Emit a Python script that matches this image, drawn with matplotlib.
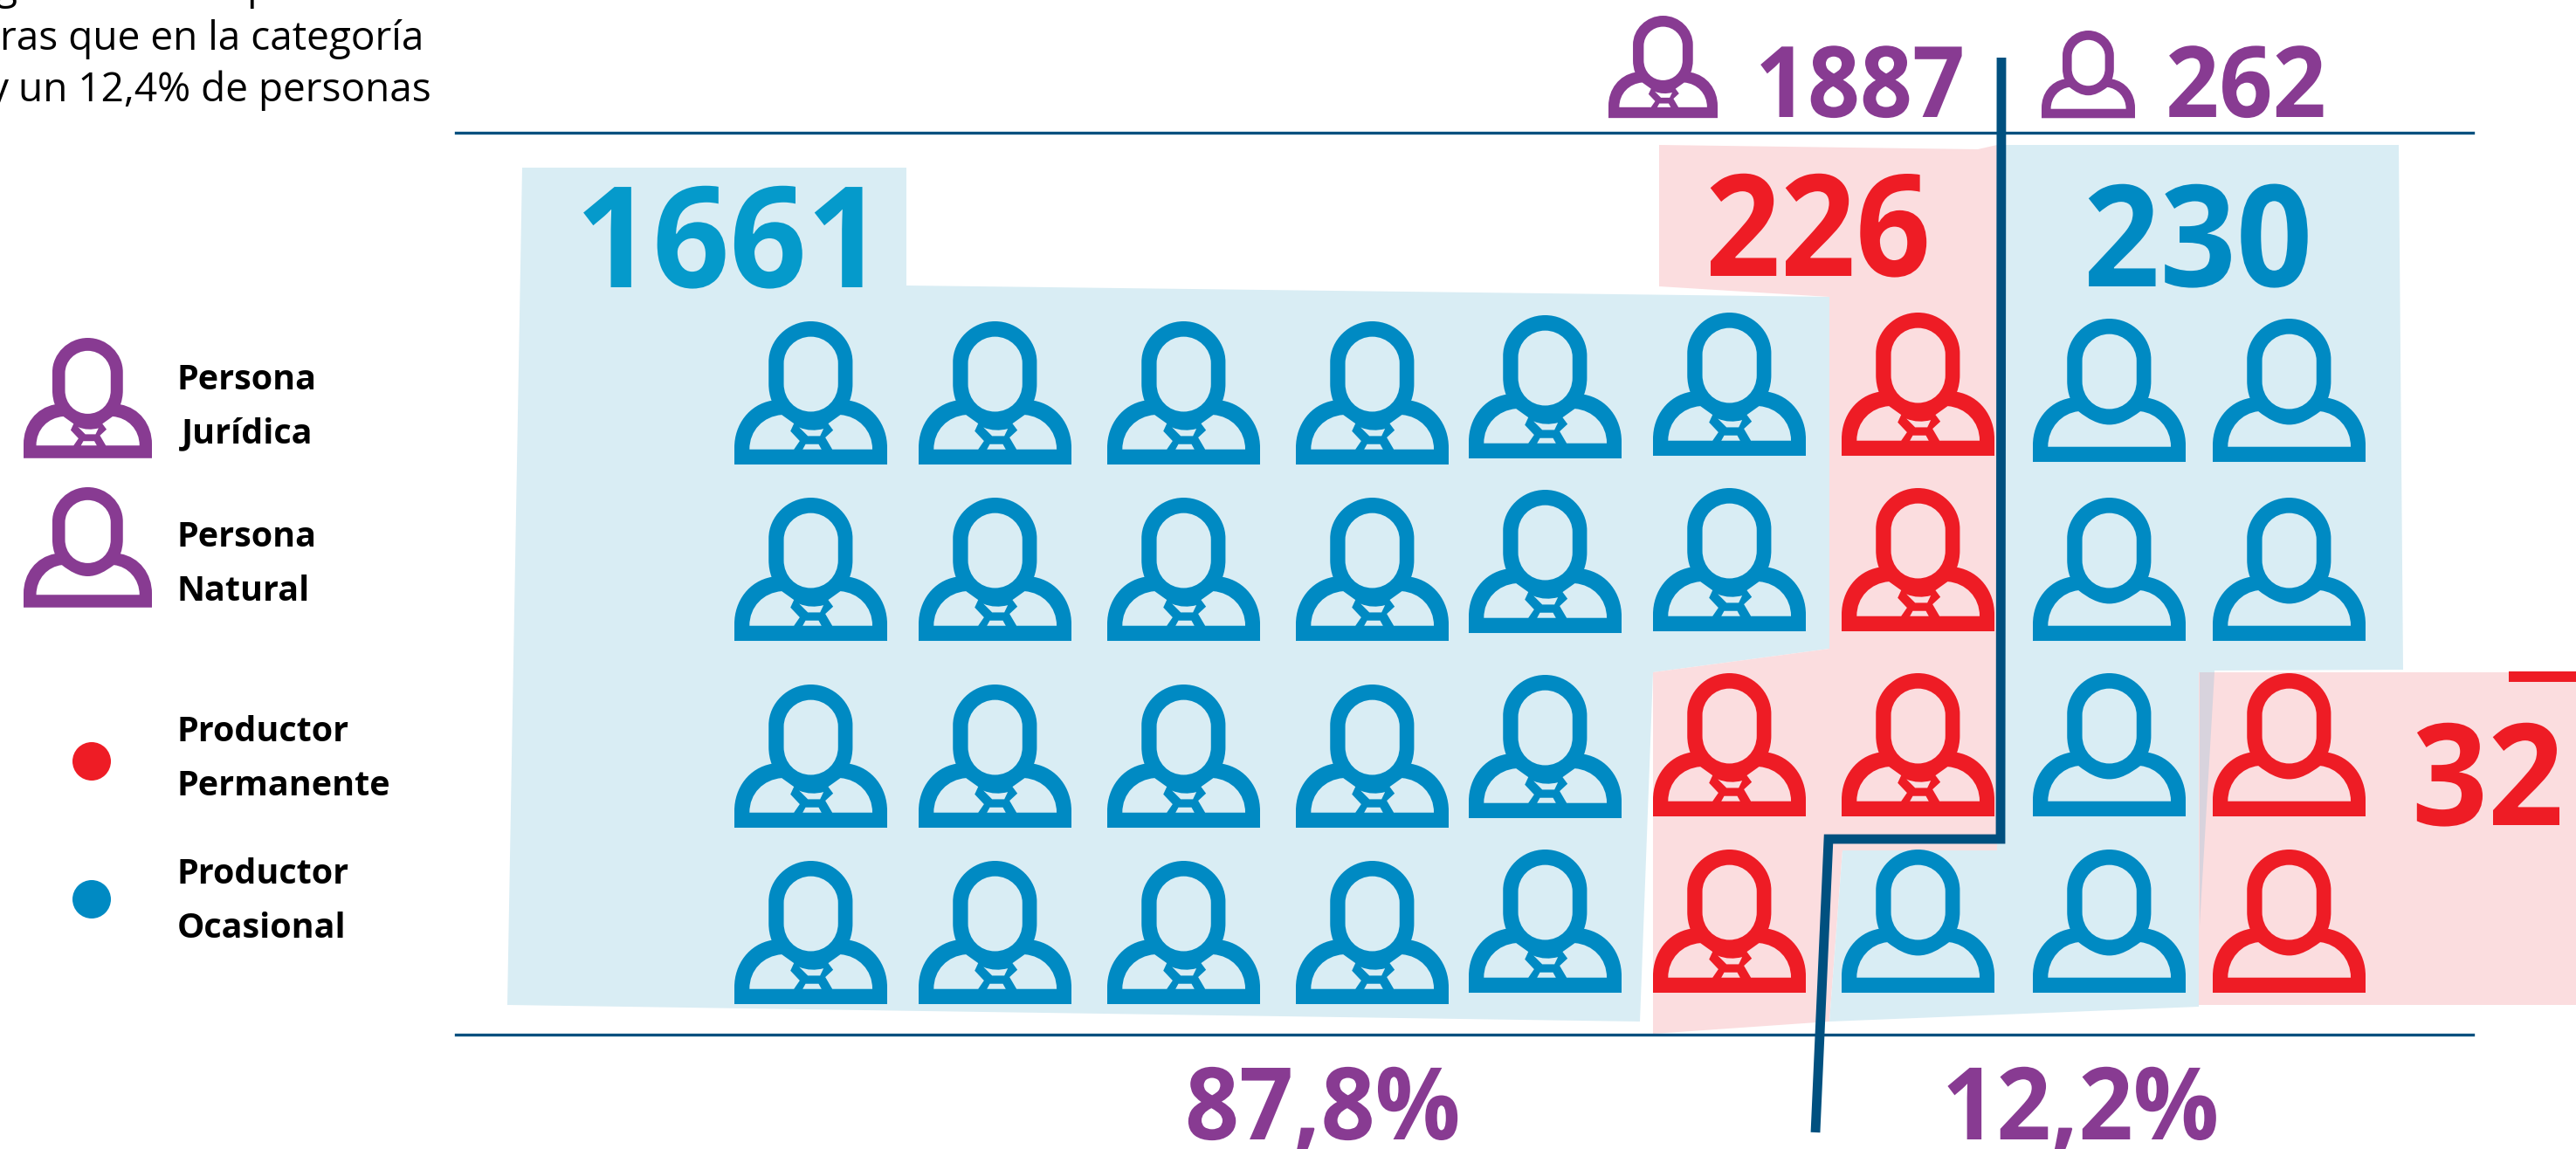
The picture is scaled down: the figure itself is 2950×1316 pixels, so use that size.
"""
Productores por tipo de persona (infografia con iconos)
"""

import matplotlib
matplotlib.use("Agg")
import matplotlib.pyplot as plt
import matplotlib.patheffects as pe
from matplotlib.patches import PathPatch, Polygon, Ellipse, Rectangle
from matplotlib.path import Path
from matplotlib.transforms import Affine2D

plt.rcParams["font.family"] = ["Open Sans", "DejaVu Sans"]

# datos
tipo_persona = [
    "JJJJJJJNN",
    "JJJJJJJNN",
    "JJJJJJJNN",
    "JJJJJJNNN",
]
tipo_productor = [
    "OOOOOOPOO",
    "OOOOOOPOO",
    "OOOOOPPOP",
    "OOOOOPOOP",
]
total_juridica = "1887"
total_natural = "262"
juridica_ocasional = "1661"
juridica_permanente = "226"
natural_ocasional = "230"
natural_permanente = "32"
pct_juridica = "87,8%"
pct_natural = "12,2%"
leyenda = ["Persona", "Jurídica", "Persona", "Natural",
           "Productor", "Permanente", "Productor", "Ocasional"]

# colores
AZUL = "#008AC3"
AZUL_NUM = "#059ACB"
ROJO = "#EE1C25"
MORADO = "#883B92"
LINEA = "#00507F"
FONDO_AZUL = "#D9EDF4"
FONDO_ROJO = "#FBDDDF"
CRUCE = "#D8D3DD"

# posiciones de la rejilla (pixeles)
col_x = [841, 1052, 1268, 1484, 1682, 1893, 2109, 2328, 2534]
col_y = [
    [368, 570, 784, 986], [368, 570, 784, 986], [368, 570, 784, 986],
    [368, 570, 784, 986], [361, 561, 773, 973], [358, 559, 771, 973],
    [358, 559, 771, 973], [365, 570, 771, 973], [365, 570, 771, 973],
]


def anillo(inicio, tramos):
    """Devuelve vertices y codigos de un contorno cerrado."""
    v = [inicio]
    c = [Path.MOVETO]
    for t in tramos:
        if len(t) == 2:
            v.append(t)
            c.append(Path.LINETO)
        else:
            v += [t[0:2], t[2:4], t[4:6]]
            c += [Path.CURVE4] * 3
    v.append(inicio)
    c.append(Path.CLOSEPOLY)
    return v, c


def icono(con_corbata):
    """Silueta de persona en el cuadro 0..1."""
    anillos = [
        anillo((328, 85), [(408, 85, 472, 150, 472, 225), (472, 300),
                           (472, 322, 468, 342, 462, 358),
                           (540, 372, 591, 440, 591, 520), (591, 578), (65, 578), (65, 520),
                           (65, 440, 116, 372, 193, 358),
                           (187, 342, 183, 322, 183, 300), (183, 225),
                           (183, 150, 248, 85, 328, 85)]),
        anillo((328, 138), [(276, 138, 235, 180, 235, 230), (235, 300),
                            (235, 355, 276, 396, 328, 396),
                            (380, 396, 422, 355, 422, 300), (422, 230),
                            (422, 180, 380, 138, 328, 138)]),
    ]
    if con_corbata:
        anillos += [
            anillo((117, 526), [(270, 526), (290, 497), (258, 463), (270, 437), (228, 407),
                                (165, 412, 117, 460, 117, 526)]),
            anillo((540, 526), [(540, 460, 492, 412, 430, 407), (388, 437), (405, 460),
                                (378, 485), (402, 526)]),
            anillo((288, 450), [(318, 480), (360, 480), (372, 455),
                                (345, 462, 315, 462, 288, 450)]),
            anillo((300, 526), [(365, 526), (355, 508), (310, 508)]),
        ]
    else:
        anillos.append(
            anillo((117, 526), [(540, 526), (540, 460, 492, 410, 435, 404),
                                (400, 430, 366, 450, 328, 450),
                                (290, 450, 255, 430, 222, 404),
                                (165, 410, 117, 460, 117, 526)]))
    verts, codes = [], []
    for v, c in anillos:
        verts += [((x - 65) / 526, (y - 85) / 493) for x, y in v]
        codes += c
    return Path(verts, codes)


ICONOS = {"J": icono(True), "N": icono(False)}


class Estrecho(pe.AbstractPathEffect):
    """Estrecha el texto en horizontal, la fuente original es mas condensada."""

    def __init__(self, sx):
        super().__init__()
        self.sx = sx

    def draw_path(self, renderer, gc, tpath, affine, rgbFace=None):
        renderer.draw_path(gc, tpath, Affine2D().scale(self.sx, 1) + affine, rgbFace)


def poner_icono(ax, tipo, x, y, ancho, color):
    alto = ancho * 493 / 526
    t = Affine2D().scale(ancho, alto).translate(x, y) + ax.transData
    ax.add_patch(PathPatch(ICONOS[tipo], facecolor=color, edgecolor="none", transform=t, zorder=3))


def poner_texto(ax, x, y, s, px, color, bold=True, sx=1.0):
    """x es el borde izquierdo, y la linea base, px el tamano en pixeles."""
    efectos = [Estrecho(sx)] if sx != 1.0 else None
    ax.text(x, y, s, fontsize=px * 0.72, color=color, ha="left", va="baseline",
            fontweight="bold" if bold else "normal", path_effects=efectos, zorder=4)


fig = plt.figure(figsize=(29.5, 13.16), dpi=100)
ax = fig.add_axes([0, 0, 1, 1])
ax.set_xlim(0, 2950)
ax.set_ylim(1316, 0)
ax.axis("off")

# fondos
fondos = [
    ([(598, 192), (1038, 192), (1038, 327), (2095, 340), (2095, 743), (1893, 770),
      (1878, 1170), (581, 1151)], FONDO_AZUL),
    ([(1900, 166), (2265, 171), (2287, 166), (2287, 974), (2110, 974), (2095, 1170),
      (1893, 1184), (1893, 770), (2095, 743), (2095, 340), (1900, 328)], FONDO_ROJO),
    ([(2287, 166), (2747, 166), (2752, 767), (2536, 768), (2518, 1153), (2095, 1170),
      (2110, 974), (2287, 974)], FONDO_AZUL),
    ([(2518, 770), (2950, 770), (2950, 1151), (2518, 1151)], FONDO_ROJO),
    ([(2519, 770), (2536, 770), (2519, 1060)], CRUCE),
]
for puntos, color in fondos:
    ax.add_patch(Polygon(puntos, closed=True, facecolor=color, edgecolor="none", zorder=1))
ax.add_patch(Rectangle((2873, 769), 77, 12, facecolor=ROJO, edgecolor="none", zorder=2))

# lineas
ax.plot([522, 2832], [152, 152], color=LINEA, lw=2.4, zorder=2)
ax.plot([522, 2832], [1185, 1185], color=LINEA, lw=2.4, zorder=2)
ax.plot([2292, 2291, 2094, 2079], [66, 961, 961, 1297], color=LINEA, lw=7.8,
        solid_joinstyle="miter", solid_capstyle="butt", zorder=5)

# rejilla de personas
for f in range(len(tipo_persona)):
    for c in range(len(col_x)):
        color = ROJO if tipo_productor[f][c] == "P" else AZUL
        poner_icono(ax, tipo_persona[f][c], col_x[c], col_y[c][f], 175, color)

# cabecera
poner_icono(ax, "J", 1842, 18, 125, MORADO)
poner_icono(ax, "N", 2338, 35, 107, MORADO)
poner_texto(ax, 2010, 134, total_juridica, 113, MORADO, sx=0.93)
poner_texto(ax, 2480, 134, total_natural, 113, MORADO, sx=0.95)

# numeros grandes
poner_texto(ax, 659, 329, juridica_ocasional, 161, AZUL_NUM, sx=0.96)
poner_texto(ax, 1953, 316, juridica_permanente, 162, ROJO, sx=0.93)
poner_texto(ax, 2386, 328, natural_ocasional, 162, AZUL, sx=0.945)
poner_texto(ax, 2762, 945, natural_permanente, 162, ROJO, sx=0.94)
poner_texto(ax, 1357, 1305, pct_juridica, 115, MORADO, sx=0.945)
poner_texto(ax, 2224, 1305, pct_natural, 115, MORADO, sx=0.95)

# leyenda
poner_icono(ax, "J", 27, 387, 147, MORADO)
poner_icono(ax, "N", 27, 558, 147, MORADO)
ax.add_patch(Ellipse((105, 872), 44, 44, facecolor=ROJO, edgecolor="none"))
ax.add_patch(Ellipse((105, 1030), 44, 44, facecolor=AZUL, edgecolor="none"))
ley_x = [203, 208, 203, 203, 203, 203, 203, 203]
ley_y = [446, 507, 626, 688, 849, 911, 1012, 1074]
for s, x, y in zip(leyenda, ley_x, ley_y):
    poner_texto(ax, x, y, s, 39.5, "black")

# texto cortado de arriba a la izquierda
poner_texto(ax, -6, -1, "g", 46, "black", bold=False)
poner_texto(ax, 282, -1, "p", 46, "black", bold=False)
poner_texto(ax, 0, 57, "ras que en la categoría", 46, "black", bold=False)
poner_texto(ax, -14, 116, "y un 12,4% de personas", 46, "black", bold=False)

fig.savefig("out.png", dpi=100)
